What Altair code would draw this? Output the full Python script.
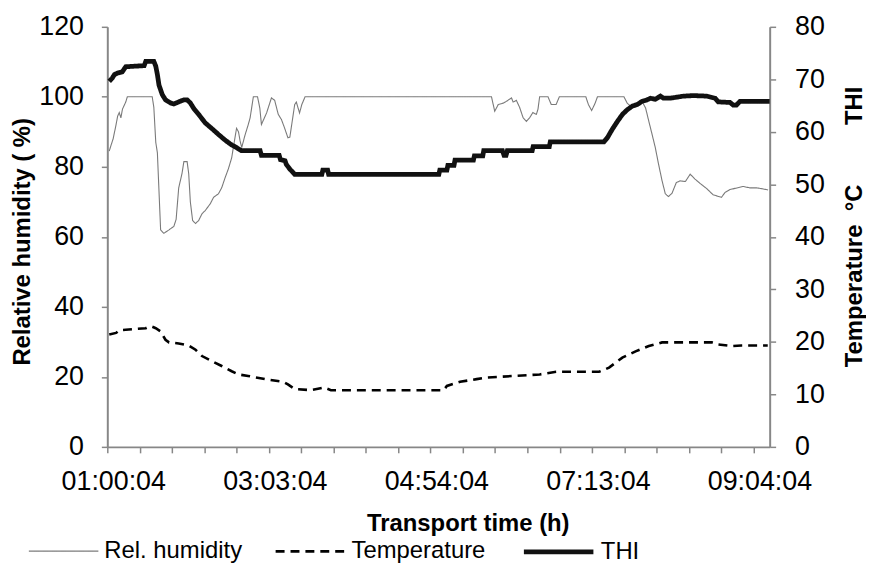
import altair as alt
import pandas as pd

# x positions are in category-tick units (tick 0 = 01:00:04, tick 20 = 09:04:04)
x_tick_values = list(range(21))
x_label_ticks = [0, 5, 10, 15, 20]
x_label_texts = ["01:00:04", "03:03:04", "04:54:04", "07:13:04", "09:04:04"]

series_names = ["Rel. humidity", "Temperature", "THI"]

rh_x = [0.06, 0.11, 0.18, 0.27, 0.32, 0.37, 0.42, 0.47, 0.57, 0.62, 1.39, 1.44, 1.50, 1.55,
        1.60, 1.65, 1.75, 1.91, 2.06, 2.13, 2.21, 2.31, 2.37, 2.47, 2.52, 2.57, 2.64, 2.73,
        2.83, 2.93, 3.03, 3.19, 3.29, 3.44, 3.54, 3.65, 3.75, 3.85, 3.90, 4.00, 4.06, 4.11,
        4.16, 4.26, 4.36, 4.42, 4.52, 4.65, 4.72, 4.77, 4.93, 5.08, 5.18, 5.29, 5.39, 5.49,
        5.59, 5.65, 5.80, 5.85, 5.95, 6.02, 6.12, 11.89, 11.99, 12.10, 12.25, 12.35, 12.51,
        12.56, 12.66, 12.76, 12.87, 12.97, 13.07, 13.17, 13.28, 13.33, 13.38, 13.64, 13.74,
        13.89, 13.99, 14.81, 14.89, 14.99, 15.09, 15.17, 15.99, 16.09, 16.20, 16.40, 16.55,
        16.66, 16.76, 16.86, 16.96, 17.06, 17.17, 17.27, 17.37, 17.48, 17.61, 17.73, 17.89,
        18.04, 18.19, 18.34, 18.55, 18.75, 19.01, 19.12, 19.27, 19.68, 19.88, 20.09, 20.29,
        20.45]
rh_y = [84.5, 86, 88, 92, 94.5, 95.5, 94, 96.5, 98.5, 100, 100, 97, 87, 84,
        73, 62, 61, 62, 63, 65, 74, 78, 81.5, 81.5, 78, 70, 64.7, 63.8,
        64.7, 66.6, 67.5, 69.5, 71.3, 72.3, 74, 77, 79.5, 82.6, 85.5, 91, 90, 87.4,
        85.5, 89, 92, 94, 100, 100, 96.8, 92.1, 95.4, 99.7, 99, 95, 93.5, 91,
        88.3, 88.5, 97.8, 98.5, 95.4, 97.8, 100, 100, 95.9, 97.8, 98.2, 98.7, 99.7,
        98.5, 99, 97, 94, 93, 94, 95.5, 95, 96.5, 100, 100, 97.8,
        97.8, 100, 100, 97.8, 96.1, 98, 100, 100, 98.2, 97.3, 98.2, 98.7,
        96.8, 93, 89.3, 85.5, 80.8, 76, 72.3, 71.5, 72.5, 75.5, 76, 75.8,
        77.9, 76.5, 75.3, 73.8, 72, 71.3, 72.7, 73.5, 74.4, 74, 74, 73.7,
        73.4]

temp_x = [0.06, 0.27, 0.37, 0.57, 1.19, 1.29, 1.38, 1.50, 1.65, 1.80, 1.91, 2.21, 2.52,
          2.73, 2.93, 3.24, 3.54, 3.85, 4.06, 4.36, 4.88, 5.44, 5.59, 5.80, 6.31, 6.72,
          6.92, 10.41, 10.51, 10.92, 11.43, 11.74, 13.38, 13.89, 15.22, 15.53, 15.94,
          16.35, 16.76, 17.17, 18.71, 18.91, 19.32, 19.62, 20.44]
temp_y = [21.4, 21.7, 22.2, 22.3, 22.6, 22.9, 22.9, 22.6, 22.0, 20.4, 19.9, 19.7, 19.3,
          18.5, 17.3, 16.3, 15.4, 14.4, 13.8, 13.5, 12.9, 12.4, 11.9, 11.0, 10.8, 11.3,
          10.8, 10.8, 11.6, 12.4, 12.9, 13.2, 13.8, 14.3, 14.3, 15.1, 17.0,
          18.2, 19.2, 19.9, 19.9, 19.5, 19.2, 19.3, 19.3]

thi_x = [0.06, 0.15, 0.22, 0.32, 0.46, 0.57, 1.14, 1.19, 1.44, 1.50, 1.55, 1.60, 1.70,
         1.80, 1.96, 2.06, 2.21, 2.37, 2.47, 2.57, 2.67, 2.83, 3.03, 3.24, 3.44, 3.65,
         3.85, 4.00, 4.15, 4.73, 4.77, 5.32, 5.36, 5.50, 5.54, 5.65, 5.80, 6.64, 6.67,
         6.82, 6.85, 10.26, 10.29, 10.51, 10.54, 10.73, 10.76, 11.33, 11.36, 11.62, 11.65,
         12.23, 12.28, 12.34, 12.38, 13.15, 13.18, 13.68, 13.71, 15.37, 15.48, 15.63,
         15.79, 15.94, 16.09, 16.25, 16.40, 16.55, 16.71, 16.81, 16.96, 17.12, 17.21,
         17.42, 17.83, 18.14, 18.55, 18.81, 18.91, 19.27, 19.37, 19.47, 19.58, 20.50]
thi_y = [69.6, 70.2, 70.9, 71.2, 71.4, 72.4, 72.6, 73.4, 73.4, 72.5, 70.9, 68.9, 67.1,
         66.1, 65.5, 65.3, 65.7, 66.1, 66.1, 65.5, 64.5, 63.3, 61.7, 60.6, 59.5, 58.4,
         57.5, 57.0, 56.4, 56.4, 55.5, 55.5, 54.7, 54.5, 53.8, 52.9, 51.9, 51.9, 52.7,
         52.7, 51.9, 51.9, 52.7, 52.7, 53.6, 53.6, 54.6, 54.6, 55.4, 55.4, 56.4,
         56.4, 55.5, 55.5, 56.4, 56.4, 57.2, 57.2, 58.1, 58.1, 58.9, 60.5,
         62.0, 63.3, 64.2, 64.9, 65.2, 65.8, 66.1, 66.4, 66.2, 66.8, 66.4,
         66.4, 66.8, 66.9, 66.8, 66.4, 65.7, 65.6, 65.1, 65.1, 65.8, 65.8]

rh_df = pd.DataFrame({"x": rh_x, "v": rh_y, "series": "Rel. humidity"})
right_df = pd.concat([
    pd.DataFrame({"x": temp_x, "v": temp_y, "series": "Temperature"}),
    pd.DataFrame({"x": thi_x, "v": thi_y, "series": "THI"}),
], ignore_index=True)

FONT = "Liberation Sans, Arial, sans-serif"
AXIS_GRAY = "#878787"

label_expr = " : ".join(
    f"datum.value == {v} ? '{t}'" for v, t in zip(x_label_ticks, x_label_texts)
) + " : ''"

x_enc = alt.X(
    "x:Q",
    scale=alt.Scale(domain=[0, 20.5], nice=False, zero=False),
    axis=alt.Axis(
        values=x_tick_values, labelExpr=label_expr, title="Transport time (h)",
        grid=False, tickSize=6, labelPadding=16, labelOffset=6, labelFlush=False,
        labelOverlap=False, titleX=363, titleY=77, titleBaseline="middle",
        titleAlign="center",
    ),
)

color = alt.Color("series:N", scale=alt.Scale(domain=series_names,
                  range=["#7a7a7a", "#000000", "#111111"]),
                  legend=alt.Legend(title=None, orient="none", legendX=-80, legendY=491,
                                    direction="horizontal", symbolType="stroke",
                                    symbolSize=4900, labelOffset=5, columnPadding=28,
                                    labelFontSize=24, labelFont=FONT, labelColor="#000000",
                                    padding=0))
dash = alt.StrokeDash("series:N", scale=alt.Scale(domain=series_names,
                      range=[[1, 0], [9, 6], [1, 0]]), legend=None)
width_enc = alt.StrokeWidth("series:N", scale=alt.Scale(type="ordinal", domain=series_names,
                            range=[1.1, 2.6, 4.8]), legend=None)

rh_line = alt.Chart(rh_df).mark_line(interpolate="linear").encode(
    x=x_enc,
    y=alt.Y("v:Q", scale=alt.Scale(domain=[0, 120], nice=False),
            axis=alt.Axis(orient="left", values=list(range(0, 121, 20)),
                          title="Relative humidity ( %)", grid=False, tickSize=6,
                          labelPadding=18, titleX=-85, titleY=216,
                          titleBaseline="middle", titleAlign="center", titleAngle=270)),
    color=color, strokeDash=dash, strokeWidth=width_enc,
)

right_lines = alt.Chart(right_df).mark_line(interpolate="linear").encode(
    x=x_enc,
    y=alt.Y("v:Q", scale=alt.Scale(domain=[0, 80], nice=False),
            axis=alt.Axis(orient="right", values=list(range(0, 81, 10)),
                          title="Temperature\u00a0\u00a0°C" + "\u00a0" * 9 + "THI",
                          grid=False, tickSize=6, labelPadding=19,
                          titleX=85, titleY=201, titleBaseline="middle",
                          titleAlign="center", titleAngle=270)),
    color=color, strokeDash=dash, strokeWidth=width_enc, detail="series:N",
)

chart = alt.layer(rh_line, right_lines).resolve_scale(y="independent").properties(
    width=667, height=423,
    autosize=alt.AutoSizeParams(type="none"),
    padding={"left": 100, "top": 17, "right": 97, "bottom": 116},
).configure_view(strokeWidth=0).configure_axis(
    labelFont=FONT, labelFontSize=27, labelColor="#000000",
    titleFont=FONT, titleFontSize=24, titleFontWeight="bold", titleColor="#000000",
    domainColor=AXIS_GRAY, tickColor=AXIS_GRAY, domainWidth=2, tickWidth=1.5,
)

chart.save("out.html", embed_options={"renderer": "svg", "actions": False})
